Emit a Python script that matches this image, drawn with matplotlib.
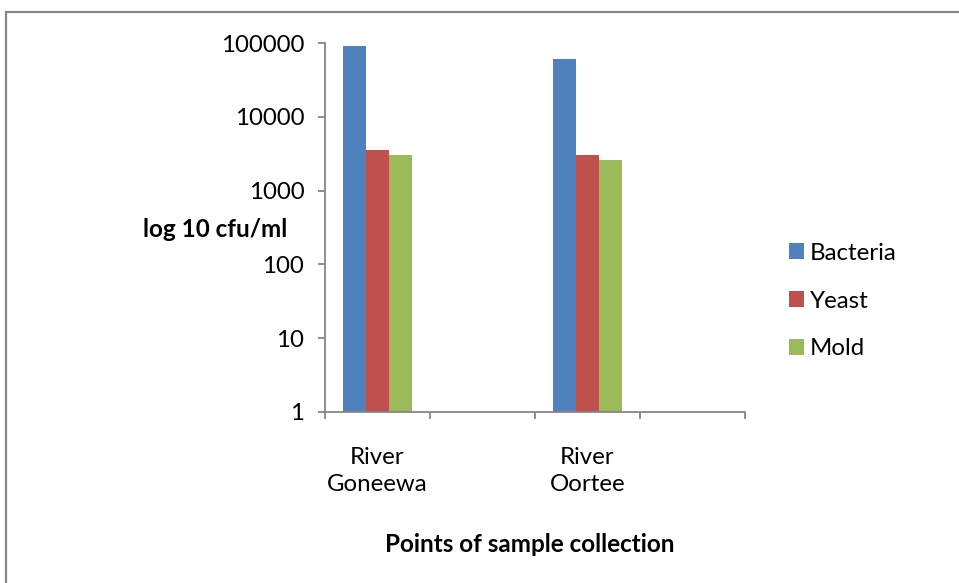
import matplotlib.pyplot as plt
import numpy as np
from matplotlib.patches import Rectangle
from matplotlib.ticker import FixedLocator, FixedFormatter, NullFormatter

plt.rcParams['font.family'] = ['Lato', 'DejaVu Sans']

# data
sites = ["River\nGoneewa", "", "River\nOortee", ""]
series = ["Bacteria", "Yeast", "Mold"]
bacteria = [90000, 0, 60000, 0]
yeast = [3500, 0, 3000, 0]
mold = [3000, 0, 2600, 0]
colors = ["#4f81bd", "#c0504d", "#9bbb59"]

W, H = 959, 583
fig = plt.figure(figsize=(W / 100, H / 100), dpi=100)
ax = fig.add_axes([325 / W, 1 - 412 / H, 420 / W, 369 / H])

x = np.arange(len(sites))
bw = 0.219
for k, (vals, c, name) in enumerate(zip([bacteria, yeast, mold], colors, series)):
    v = np.array(vals, dtype=float)
    mask = v > 0
    ax.bar(x[mask] + (k - 1) * bw, v[mask], width=bw, color=c, label=name,
           edgecolor='none', bottom=1)

ax.set_yscale('log')
ax.set_ylim(1, 100000)
ax.set_xlim(-0.5, len(sites) - 0.5)

yt = [1, 10, 100, 1000, 10000, 100000]
ax.yaxis.set_major_locator(FixedLocator(yt))
ax.yaxis.set_major_formatter(FixedFormatter([str(t) for t in yt]))
ax.yaxis.set_minor_formatter(NullFormatter())
ax.yaxis.set_minor_locator(FixedLocator([]))

ax.xaxis.set_major_locator(FixedLocator(np.arange(-0.5, len(sites), 1.0)))
ax.xaxis.set_major_formatter(NullFormatter())
ax.xaxis.set_minor_locator(FixedLocator(x))
ax.xaxis.set_minor_formatter(FixedFormatter(sites))

grey = "#868686"
for s in ['top', 'right']:
    ax.spines[s].set_visible(False)
for s in ['left', 'bottom']:
    ax.spines[s].set_color(grey)
    ax.spines[s].set_linewidth(1.3)

ax.tick_params(axis='y', which='major', length=5, width=1.3, color=grey,
               labelsize=17.3, pad=10)
ax.tick_params(axis='x', which='major', length=5, width=1.3, color=grey)
ax.tick_params(axis='x', which='minor', length=0, labelsize=17.3, pad=25)
for t in ax.xaxis.get_minorticklabels():
    t.set_linespacing(1.35)

fig.text(215 / W, 1 - 229 / H, "log 10 cfu/ml", ha='center', va='center',
         fontsize=17.5, fontweight='bold')
fig.text(530 / W, 1 - 544 / H, "Points of sample collection", ha='center',
         va='center', fontsize=17.5, fontweight='bold')

leg = fig.legend(loc='center left', bbox_to_anchor=(777 / W, 1 - 301 / H),
                 frameon=False, fontsize=17.3, handlelength=0.62,
                 handleheight=0.62, handletextpad=0.25, labelspacing=1.12,
                 borderpad=0)

fig.patches.append(Rectangle((6 / W, -0.1), 1.2, 1.1 - 12 / H,
                             transform=fig.transFigure, fill=False,
                             edgecolor=grey, linewidth=1.6))

fig.savefig("out.png", dpi=100)
